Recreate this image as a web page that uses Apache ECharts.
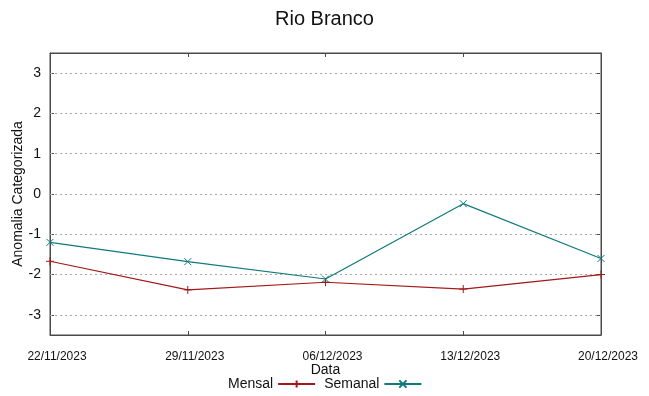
<!DOCTYPE html>
<html><head><meta charset="utf-8">
<script src="https://cdn.jsdelivr.net/npm/echarts@6/dist/echarts.min.js"></script>
<style>html,body{margin:0;padding:0;background:#fff}#c{width:649px;height:396px}</style>
</head><body><div id="c"></div>
<script>
const categories = ['22/11/2023','29/11/2023','06/12/2023','13/12/2023','20/12/2023'];
const mensal = [-1.67, -2.38, -2.19, -2.36, -2.0];
const semanal = [-1.2, -1.68, -2.11, -0.24, -1.6];
const yTicks = [-3,-2,-1,0,1,2,3];

const FONT = '"Liberation Sans", Arial, sans-serif';
const AX = '#4a4a4a';
const RED = '#a31818';
const TEAL = '#0f7a7a';
const plusPath = 'path://M0,5L10,5M5,0L5,10';
const crossPath = 'path://M0,0L10,10M10,0L0,10';

const chart = echarts.init(document.getElementById('c'), null, {renderer:'canvas'});
chart.setOption({
  animation:false,
  backgroundColor:'#fff',
  title:{text:'Rio Branco', left:'center', top:4, textStyle:{fontFamily:FONT, fontSize:20, fontWeight:'normal', color:'#111'}},
  grid:{left:50, right:48, top:53, bottom:61, show:true, borderColor:AX, borderWidth:1, containLabel:false, outerBoundsMode:'none'},
  legend:{
    left:223, top:372, align:'right', itemGap:8, itemWidth:37, itemHeight:9,
    textStyle:{fontFamily:FONT, fontSize:14, color:'#111'},
    data:['Mensal','Semanal']
  },
  xAxis:[
    {type:'category', data:categories, boundaryGap:false, name:'Data', nameLocation:'middle', nameGap:28,
     nameMoveOverlap:false,
     nameTextStyle:{fontFamily:FONT, fontSize:14, color:'#111'},
     axisLine:{show:true, onZero:false, lineStyle:{color:AX}},
     axisTick:{show:true, inside:true, length:4, lineStyle:{color:AX}},
     axisLabel:{fontFamily:FONT, fontSize:12, color:'#111', margin:16, padding:[0,0,0,14], interval:0},
     splitLine:{show:false}},
    {type:'category', data:categories, boundaryGap:false, position:'top',
     axisLine:{show:true, onZero:false, lineStyle:{color:AX}},
     axisTick:{show:true, inside:true, length:4, lineStyle:{color:AX}},
     axisLabel:{show:false}, splitLine:{show:false}}
  ],
  yAxis:[
    {type:'value', min:-3.5, max:3.5,
     name:'Anomalia Categorizada', nameLocation:'middle', nameGap:25, nameRotate:90,
     nameMoveOverlap:false,
     nameTextStyle:{fontFamily:FONT, fontSize:14, color:'#111'},
     axisLine:{show:true, lineStyle:{color:AX}},
     axisTick:{show:true, inside:true, length:4, customValues:yTicks, lineStyle:{color:AX}},
     axisLabel:{fontFamily:FONT, fontSize:14, color:'#111', margin:9,
       customValues:yTicks, formatter:v=>String(v)},
     splitLine:{show:false}},
    {type:'value', min:-3.5, max:3.5, position:'right',
     axisLine:{show:true, lineStyle:{color:AX}},
     axisTick:{show:true, inside:true, length:4, customValues:yTicks, lineStyle:{color:AX}},
     axisLabel:{show:false}, splitLine:{show:false}}
  ],
  series:[
    {name:'Mensal', type:'line', data:mensal, xAxisIndex:0, yAxisIndex:0,
     symbol:plusPath, symbolSize:8, showSymbol:true, z:3,
     lineStyle:{color:RED, width:1.2},
     itemStyle:{color:'transparent', borderColor:RED, borderWidth:1},
     markLine:{silent:true, symbol:['none','none'], label:{show:false}, z:1,
       lineStyle:{color:'#a8a8a8', type:[2,3], width:1},
       data:yTicks.map(v=>({yAxis:v}))}},
    {name:'Semanal', type:'line', data:semanal, xAxisIndex:0, yAxisIndex:0,
     symbol:crossPath, symbolSize:7, showSymbol:true, z:3,
     lineStyle:{color:TEAL, width:1.2},
     itemStyle:{color:'transparent', borderColor:TEAL, borderWidth:1}}
  ]
});
</script></body></html>
